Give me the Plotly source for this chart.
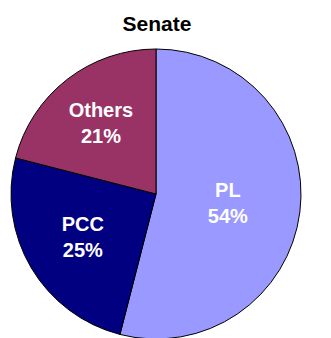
import plotly.graph_objects as go

labels = ["PL", "PCC", "Others"]
values = [54, 25, 21]
colors = ["#9999FF", "#000080", "#993366"]

W, H = 331, 338
OFF = 8  # default page body margin in the exported html
fig = go.Figure(go.Pie(
    labels=labels,
    values=values,
    sort=False,
    direction="clockwise",
    rotation=0,
    marker=dict(colors=colors, line=dict(color="#000000", width=1)),
    texttemplate="<b>%{label}<br>%{percent:.0%}</b>",
    textposition="inside",
    insidetextorientation="horizontal",
    textfont=dict(family="Liberation Sans, Arial, sans-serif", size=20, color="white"),
    hoverinfo="skip",
    showlegend=False,
    domain=dict(x=[(11 - OFF) / W, (301 - OFF) / W], y=[1 - (339 - OFF) / H, 1 - (49 - OFF) / H]),
))
fig.update_layout(
    width=W, height=H,
    margin=dict(l=0, r=0, t=0, b=0),
    paper_bgcolor="white",
    title=dict(text="<b>Senate</b>", x=(157 - OFF) / W, xanchor="center", y=1 - (24 - OFF) / H, yanchor="middle",
               yref="container", font=dict(family="Liberation Sans, Arial, sans-serif", size=21, color="black")),
)
fig.write_html("out.html")
